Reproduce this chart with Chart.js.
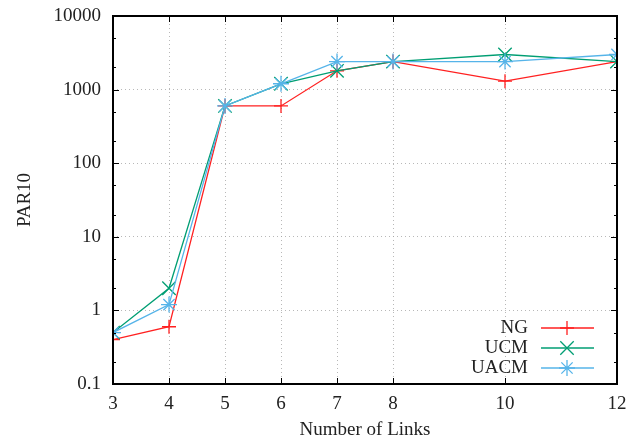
<!DOCTYPE html>
<html>
<head>
<meta charset="utf-8">
<script src="https://cdn.jsdelivr.net/npm/chart.js@4"></script>
<style>
  html, body { margin: 0; padding: 0; background: #fff; }
  #wrap { width: 630px; height: 441px; }
</style>
</head>
<body>
<div id="wrap"><canvas id="chart"></canvas></div>
<script>
// data
const links = [3, 4, 5, 6, 7, 8, 10, 12];
const ngValues = [0.4, 0.6, 600, 600, 1800, 2400, 1300, 2400];
const ucmValues = [0.5, 2, 600, 1200, 1800, 2400, 3000, 2400];
const uacmValues = [0.5, 1.2, 600, 1200, 2400, 2400, 2400, 3000];
const yTicks = [0.1, 0.2, 0.5, 1, 2, 5, 10, 20, 50, 100, 200, 500, 1000, 2000, 5000, 10000];
const yMajor = [0.1, 1, 10, 100, 1000, 10000];

const FONT = "'Liberation Serif', 'DejaVu Serif', serif";
const TEXT = '#222';
const GRID = 'rgba(160,160,160,0.75)';

function points(vals) {
  return links.map((x, i) => ({ x: x, y: vals[i] }));
}
function isMajor(v) {
  return yMajor.some(m => Math.abs(m - v) < m * 1e-6);
}

const series = [
  { label: 'NG', data: ngValues, color: '#ff2020', style: 'cross', radius: 7, order: 3 },
  { label: 'UCM', data: ucmValues, color: '#009e73', style: 'crossRot', radius: 9.5, order: 2 },
  { label: 'UACM', data: uacmValues, color: '#56b4e9', style: 'star', radius: 8, order: 1 }
];

// frame + inward ticks like gnuplot
const framePlugin = {
  id: 'frame',
  afterDatasetsDraw(chart) {
    const ctx = chart.ctx;
    const a = chart.chartArea;
    const xs = chart.scales.x, ys = chart.scales.y;
    ctx.save();
    ctx.strokeStyle = '#000';
    ctx.lineWidth = 1;
    ctx.beginPath();
    xs.ticks.forEach(t => {
      const px = Math.round(xs.getPixelForValue(t.value)) + 0.5;
      ctx.moveTo(px, a.bottom); ctx.lineTo(px, a.bottom - 6);
      ctx.moveTo(px, a.top); ctx.lineTo(px, a.top + 6);
    });
    ys.ticks.forEach(t => {
      const py = Math.round(ys.getPixelForValue(t.value)) + 0.5;
      const len = isMajor(t.value) ? 6 : 3;
      ctx.moveTo(a.left, py); ctx.lineTo(a.left + len, py);
      ctx.moveTo(a.right, py); ctx.lineTo(a.right - len, py);
    });
    ctx.stroke();
    ctx.lineWidth = 2;
    ctx.strokeRect(a.left, a.top, a.right - a.left, a.bottom - a.top);
    ctx.restore();
  }
};

// legend in the lower right, text left of the sample
const legendPlugin = {
  id: 'gnuLegend',
  afterDraw(chart) {
    const ctx = chart.ctx;
    ctx.save();
    ctx.font = '19px ' + FONT;
    ctx.textAlign = 'right';
    ctx.textBaseline = 'middle';
    series.forEach((s, i) => {
      const y = 328 + i * 20;
      ctx.fillStyle = TEXT;
      ctx.fillText(s.label, 528, y);
      ctx.strokeStyle = s.color;
      ctx.lineWidth = 1.3;
      ctx.beginPath();
      ctx.moveTo(541, y); ctx.lineTo(594, y);
      ctx.stroke();
      Chart.helpers.drawPoint(ctx, { pointStyle: s.style, radius: s.radius, rotation: 0, borderWidth: 1.3 }, 567, y);
    });
    ctx.restore();
  }
};

new Chart(document.getElementById('chart'), {
  type: 'line',
  data: {
    datasets: series.map(s => ({
      label: s.label,
      data: points(s.data),
      borderColor: s.color,
      backgroundColor: s.color,
      borderWidth: 1.3,
      pointStyle: s.style,
      pointRadius: s.radius,
      pointBorderWidth: 1.3,
      pointHoverRadius: s.radius,
      tension: 0,
      fill: false,
      order: s.order
    }))
  },
  options: {
    responsive: true,
    maintainAspectRatio: false,
    animation: false,
    layout: { padding: { top: 16, right: 13, left: 0, bottom: 0 } },
    plugins: {
      legend: { display: false },
      tooltip: { enabled: false }
    },
    scales: {
      x: {
        type: 'linear',
        min: 3,
        max: 12,
        afterBuildTicks(scale) {
          scale.ticks = links.map(v => ({ value: v }));
        },
        afterFit(scale) {
          scale.height = 57;
          scale.paddingLeft = 0;
          scale.paddingRight = 0;
        },
        border: { display: false, dash: [1, 3] },
        grid: {
          drawTicks: false,
          color: GRID,
          lineWidth: 1
        },
        ticks: {
          padding: 9,
          maxRotation: 0,
          autoSkip: false,
          color: TEXT,
          font: { family: FONT, size: 19 },
          callback: v => String(v)
        },
        title: {
          display: true,
          text: 'Number of Links',
          color: TEXT,
          font: { family: FONT, size: 19 },
          padding: { top: 2, bottom: 0 }
        }
      },
      y: {
        type: 'logarithmic',
        min: 0.1,
        max: 10000,
        afterBuildTicks(scale) {
          scale.ticks = yTicks.map(v => ({ value: v }));
        },
        afterFit(scale) {
          scale.width = 113;
          scale.paddingTop = 0;
          scale.paddingBottom = 0;
        },
        border: { display: false, dash: [1, 3] },
        grid: {
          drawTicks: false,
          color: ctx => isMajor(ctx.tick.value) ? GRID : 'rgba(0,0,0,0)',
          lineWidth: 1
        },
        ticks: {
          padding: 12,
          autoSkip: false,
          color: TEXT,
          font: { family: FONT, size: 19 },
          callback: v => isMajor(v) ? String(v) : ''
        },
        title: {
          display: true,
          text: 'PAR10',
          color: TEXT,
          font: { family: FONT, size: 19 },
          padding: { top: 14, bottom: 0 }
        }
      }
    }
  },
  plugins: [framePlugin, legendPlugin]
});
</script>
</body>
</html>
